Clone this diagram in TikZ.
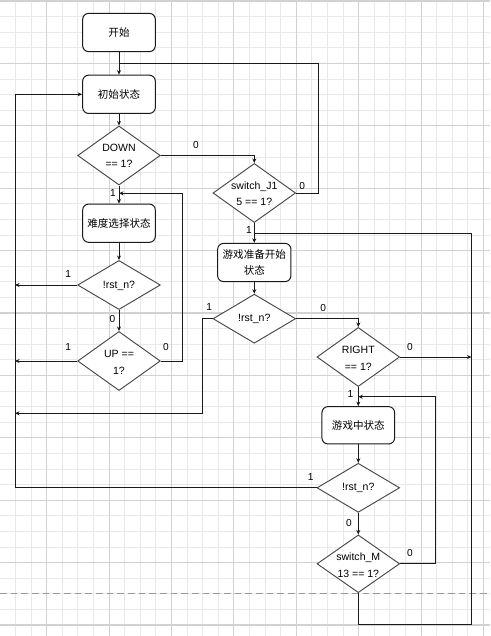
\documentclass[tikz,border=0pt]{standalone}
\usepackage{fontspec}
\setmainfont{Liberation Sans}
\newfontfamily\cjk{Noto Sans CJK SC}
\usetikzlibrary{shapes.geometric,arrows.meta}
\definecolor{gminor}{HTML}{E9E9E9}
\definecolor{gmajor}{HTML}{D2D2D2}
\definecolor{lnc}{HTML}{1A1A1A}
\tikzset{
  gridminor/.style={draw=gminor, line width=0.75pt},
  gridmajor/.style={draw=gmajor, line width=0.8pt},
  conn/.style={line width=0.75pt, draw=lnc},
  arr/.style={conn, -{Stealth[length=3.4pt,width=3pt]}},
  sbox/.style={draw=lnc, line width=0.75pt, rounded corners=4.5pt, minimum width=54.5pt, minimum height=28.7pt, inner sep=0pt, font=\cjk\fontsize{7.9}{12.4}\selectfont, align=center, fill=white},
  dec/.style={diamond, draw=black!72, line width=0.7pt, inner sep=0pt, minimum width=62pt, minimum height=44.3pt, fill=white},
  decone/.style={dec, minimum height=36.8pt},
  dtext/.style={font=\fontsize{7.9}{12.4}\selectfont, align=center, inner sep=0pt},
  lbl/.style={font=\fontsize{7.6}{9}\selectfont, inner sep=0pt},
}
\begin{document}
\begin{tikzpicture}[x=0.75pt, y=-0.75pt]
\useasboundingbox (0,0) rectangle (490,636);
\fill[white] (0,0) rectangle (490,636);
% grid
\foreach \i in {0,...,31} \draw[gridminor] ({-0.1+15.6*\i},0) -- ({-0.1+15.6*\i},636);
\foreach \j in {0,...,40} \draw[gridminor] (0,{1+15.6*\j}) -- (490,{1+15.6*\j});
\foreach \i in {3,7,...,31} \draw[gridmajor] ({-0.1+15.6*\i},0) -- ({-0.1+15.6*\i},636);
\foreach \j in {0,4,...,40} \draw[gridmajor] (0,{1+15.6*\j}) -- (490,{1+15.6*\j});
\draw[draw=black!40, line width=0.75pt, dash pattern=on 5pt off 3pt] (0,593.6) -- (490,593.6);

% nodes
\node[sbox] (start) at (119,32.5) {开始};
\node[sbox] (init) at (119,94.3) {初始状态};
\node[dec] (down) at (119,155.5) {};
\node[dtext] (downt) at (119,156) {DOWN\\== 1?};
\node[dec] (sw1) at (254.3,193) {};
\node[dtext] (sw1t) at (254.3,193.8) {switch\_J1\\5 == 1?};
\node[sbox] (diff) at (119,223.2) {难度选择状态};
\node[decone] (rst1) at (119,285) {};
\node[dtext] (rst1t) at (119,285.5) {!rst\_n?};
\node[dec] (up) at (119,361) {};
\node[dtext] (upt) at (119,362.3) {UP ==\\1?};
\node[sbox, minimum width=55pt] (prep) at (254.3,262.5) {游戏准备开始\\状态};
\node[decone] (rst2) at (254.3,318.7) {};
\node[dtext] (rst2t) at (254.3,319.3) {!rst\_n?};
\node[dec] (right) at (358.3,357) {};
\node[dtext] (rightt) at (358.3,358.3) {RIGHT\\== 1?};
\node[sbox, minimum height=28pt] (game) at (358.3,425.3) {游戏中状态};
\node[decone] (rst3) at (358.3,487.8) {};
\node[dtext] (rst3t) at (358.3,488.3) {!rst\_n?};
\node[dec, minimum height=43.3pt] (sw2) at (358.3,563.8) {};
\node[dtext] (sw2t) at (358.3,565) {switch\_M\\13 == 1?};

% junction coordinates
\coordinate (j1) at (119,63.3);
\coordinate (j2) at (254.3,233.3);
\coordinate (j3) at (119,193.3);
\coordinate (j4) at (358.3,396.7);

% connectors
\draw[arr] (start.south) -- (init.north);
\draw[conn] (sw1.east) -- (318.3,193) -- (318.3,63.3) -- (j1);
\draw[arr] (init.south) -- (down.north);
\draw[arr] (down.east) -- (254.3,155.5) -- (sw1.north);
\draw[arr] (down.south) -- (diff.north);
\draw[arr] (up.east) -- (182.7,361) -- (182.7,193.3) -- (j3);
\draw[arr] (diff.south) -- (rst1.north);
\draw[arr] (rst1.west) -- (15,285);
\draw[arr] (rst1.south) -- (up.north);
\draw[arr] (up.west) -- (15,361);
\draw[arr] (rst3.west) -- (15,487.8) -- (15,94.3) -- (init.west);
\draw[arr] (rst2.west) -- (202.3,318.7) -- (202.3,413.3) -- (15,413.3);
\draw[arr] (sw1.south) -- (prep.north);
\draw[conn] (sw2.south) -- (358.3,624.3) -- (471.5,624.3) -- (471.5,233.3) -- (j2);
\draw[arr] (prep.south) -- (rst2.north);
\draw[arr] (rst2.east) -- (358.3,318.7) -- (right.north);
\draw[arr] (right.east) -- (471.5,357);
\draw[arr] (right.south) -- (game.north);
\draw[arr] (sw2.east) -- (435.3,563.8) -- (435.3,396.7) -- (j4);
\draw[arr] (game.south) -- (rst3.north);
\draw[arr] (rst3.south) -- (sw2.north);

% labels
\node[lbl] (l1) at (302.3,185.7) {0};
\node[lbl] (l2) at (196,145) {0};
\node[lbl] (l3) at (113,193.3) {1};
\node[lbl] (l4) at (166,346.7) {0};
\node[lbl] (l5) at (68.3,274.3) {1};
\node[lbl] (l6) at (112.5,319) {0};
\node[lbl] (l7) at (68.3,346.7) {1};
\node[lbl] (l8) at (310.7,477.3) {1};
\node[lbl] (l9) at (209.3,307.3) {1};
\node[lbl] (l10) at (249,230) {1};
\node[lbl] (l11) at (323.3,308.3) {0};
\node[lbl] (l12) at (410,347.3) {0};
\node[lbl] (l13) at (350.5,394) {1};
\node[lbl] (l14) at (410,553.3) {0};
\node[lbl] (l15) at (349,523.3) {0};
\end{tikzpicture}
\end{document}
